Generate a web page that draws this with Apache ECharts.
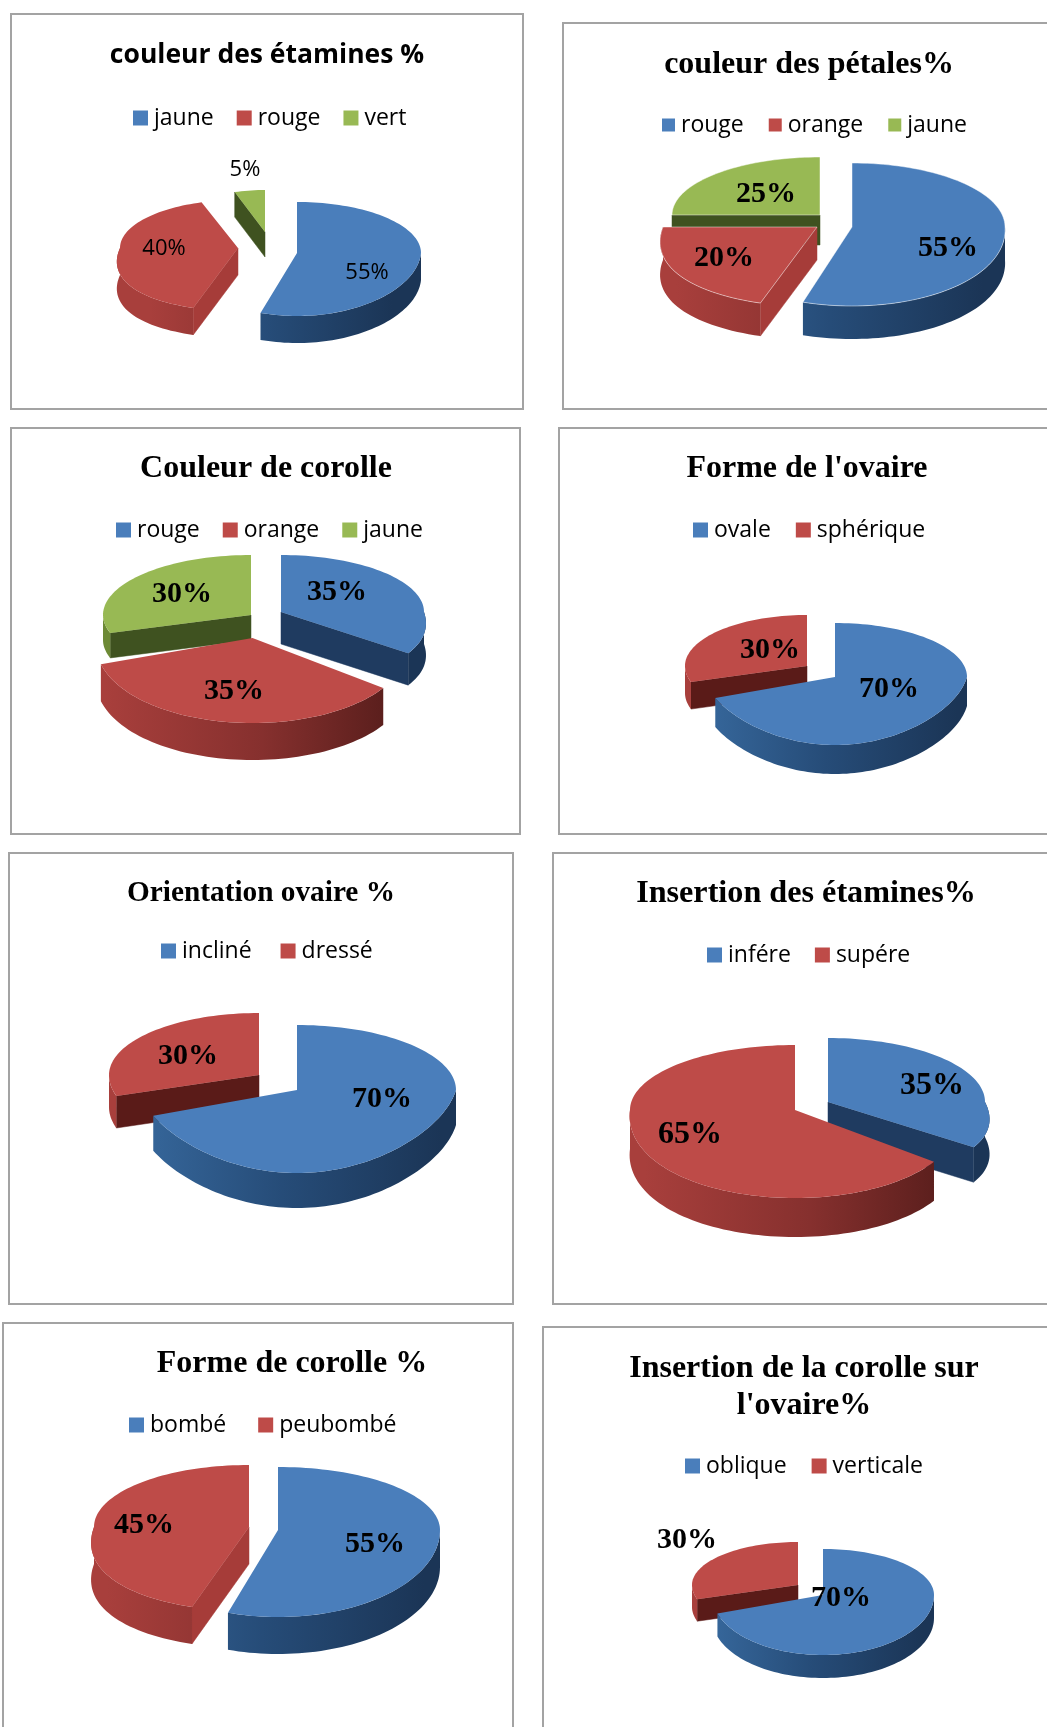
<!DOCTYPE html>
<html><head><meta charset="utf-8">
<style>html,body{margin:0;padding:0;background:#fff;overflow:hidden}#c{width:1047px;height:1727px}</style>
<script src="https://cdn.jsdelivr.net/npm/echarts@6/dist/echarts.min.js"></script>
</head><body><div id="c"></div>
<script>
// ---- data ----
const titles = ['couleur des étamines %','couleur des pétales%','Couleur de corolle',"Forme de l'ovaire",'Orientation ovaire %','Insertion des étamines%','Forme de corolle %',"Insertion de la corolle sur\nl'ovaire%"];
const categories = [['jaune','rouge','vert'],['rouge','orange','jaune'],['rouge','orange','jaune'],['ovale','sphérique'],['incliné','dressé'],['infére','supére'],['bombé','peubombé'],['oblique','verticale']];
const values = [[55,40,5],[55,20,25],[35,35,30],[70,30],[70,30],[35,65],[55,45],[70,30]];

// ---- layout (panel frames, pie centres, explosion offsets, radii) ----
const frames = [[11,14,512,395],[563,23,520,386],[11,428,509,406],[559,428,520,406],[9,853,504,451],[553,853,520,451],[3,1323,510,450],[543,1327,540,450]];
const centers = [[268,248],[830,222],[262,622],[825,672],[282,1084],[810,1106],[262,1528],[812,1590]];
// per slice: dx, dy, rx, ryBack, ryFront, depth, front widening
const sliceGeom = [
 [[29,5,124,51,63,27,-0.05],[-30,0,118,48,63,27,0.24],[-3,-16,98,42,50,25,0]],
 [[22,5,153,64,79,33,0.04],[-13,5,154,64,80,33,0.2],[-10,-7,148,58,70,30,0]],
 [[19,-10,143,57,70,32,0.17],[-9.5,16,157,70,85,37,0.05],[-11,-7,148,60,58,25,0]],
 [[10,5,132,54,68,29,-0.15],[-18,-6,122,51,52,27,0]],
 [[15,6,159,65,83,35,-0.16],[-23,-9,150,62,68,32,0]],
 [[18,-4,157,64,77,35,0.25],[-15,4,165,65,88,39,0.07]],
 [[16,2,162,63,87,37,0],[-13,-1,155,62,84,37,0.2]],
 [[11,5,111,46,60,23,0],[-14,-5,106,43,46,22,0]]
];
const labelPos = [
 [[367,273],[164,249],[245,170]],
 [[948,248],[724,258],[766,194]],
 [[337,592],[234,691],[182,594]],
 [[889,689],[770,650]],
 [[382,1099],[188,1056]],
 [[932,1086],[690,1135]],
 [[375,1544],[144,1525]],
 [[841,1598],[687,1540]]
];
const titlePos = [[267,55,26.5],[809,65,32],[266,469,32],[807,469,32],[261,893,29.3],[806,894,32.2],[292,1364,32],[804,1387,32]];
const legendPos = [[133,118,23],[662,125,25],[116,530,23],[693,530,25],[161,951,29],[707,955,24],[129,1425,32],[685,1466,25]];

const palette = [
 {top:'#4a7ebb',lit:'#2f5d8c',dark:'#1f3b60',arc:['#386a9f','#264c78','#1b3556']},
 {top:'#be4b48',lit:'#a63c39',dark:'#5a1b18',arc:['#a83f3c','#86302e','#4f1a18']},
 {top:'#98b954',lit:'#5d7530',dark:'#3f5220',arc:['#6d8a36','#566e2a','#3f5220']}
];
const SANS = '"Open Sans", sans-serif', SERIF = '"Liberation Serif", serif';

function sliceRenderer(p, s, start, end) {
  return function () {
    const [cx, cy] = centers[p];
    const [dx, dy, rx, ryB, ryF, depth, widen] = sliceGeom[p][s];
    const ax = cx + dx, ay = cy + dy;
    const col = palette[s];
    const rim = (deg, off) => {
      const r = deg * Math.PI / 180, c = -Math.cos(r);
      return [ax + rx * Math.sin(r) * (1 + widen * Math.max(c, 0)), ay + (c < 0 ? ryB : ryF) * c + (off || 0)];
    };
    const sweep = (a, b, off) => {
      const pts = [], n = Math.max(2, Math.ceil((b - a) / 2));
      for (let i = 0; i <= n; i++) pts.push(rim(a + (b - a) * i / n, off));
      return pts;
    };
    const kids = [];
    const wall = (edge, normal) => {
      const nr = normal * Math.PI / 180;
      if (Math.cos(nr) >= 0) return;
      const e = rim(edge), fill = Math.sin(nr) > 0.5 ? col.lit : col.dark;
      kids.push({type:'polygon', silent:true, shape:{points:[[ax,ay],e,[e[0],e[1]+depth],[ax,ay+depth]]}, style:{fill, stroke:fill, lineWidth:0.5}});
    };
    wall(start, start - 90);
    wall(end, end + 90);
    const from = Math.max(start, 90), to = Math.min(end, 270);
    if (to > from) {
      const fill = new echarts.graphic.LinearGradient(cx - rx, 0, cx + rx, 0,
        [{offset:0,color:col.arc[0]},{offset:0.5,color:col.arc[1]},{offset:1,color:col.arc[2]}], true);
      kids.push({type:'polygon', silent:true, shape:{points:sweep(from,to,0).concat(sweep(from,to,depth).reverse())}, style:{fill}});
    }
    const topStyle = {fill:col.top};
    if (p === 1) { topStyle.stroke = 'rgba(255,255,255,0.45)'; topStyle.lineWidth = 1; }
    kids.push({type:'polygon', silent:true, shape:{points:[[ax,ay]].concat(sweep(start,end,0))}, style:topStyle});
    const lp = labelPos[p][s];
    kids.push({type:'text', silent:true, z2:50, style:{
      text: values[p][s] + '%', x: lp[0], y: lp[1], align:'center', verticalAlign:'middle',
      fill:'#000',
      fontFamily: p === 0 ? SANS : SERIF,
      fontWeight: p === 0 ? 'normal' : 'bold',
      fontSize: p === 0 ? 22 : (p === 5 ? 32 : 30)
    }});
    return {type:'group', children:kids};
  };
}

const series = [];
values.forEach((vals, p) => {
  let acc = 0;
  const total = vals.reduce((a,b)=>a+b,0);
  const items = vals.map((v,s) => {
    const start = acc / total * 360; acc += v; const end = acc / total * 360;
    return {s, start, end, back: Math.cos((start+end)/2*Math.PI/180)};
  });
  items.slice().sort((a,b)=>b.back-a.back).forEach((it, order) => {
    series.push({
      type:'custom', coordinateSystem:'none', name:categories[p][it.s],
      z: 2 + order, silent:true, animation:false,
      itemStyle:{color:palette[it.s].top},
      data:[[vals[it.s]]],
      renderItem: sliceRenderer(p, it.s, it.start, it.end)
    });
  });
});

const option = {
  backgroundColor:'#fff', animation:false,
  title: titles.map((t,i)=>({
    text:t, left:titlePos[i][0], top:titlePos[i][1], textAlign:'center', textVerticalAlign:'middle', padding:0,
    textStyle:{color:'#000', fontWeight:'bold', fontFamily:i===0?SANS:SERIF, fontSize:titlePos[i][2], lineHeight:37}
  })),
  legend: categories.map((cats,i)=>({
    show:true, orient:'horizontal', left:legendPos[i][0], top:legendPos[i][1]-15, padding:0,
    itemGap:legendPos[i][2], itemWidth:i===1?13:15, itemHeight:i===1?13:15, icon:'rect', selectedMode:false,
    height:30,
    textStyle:{fontFamily:SANS, fontSize:23, color:'#000', padding:[0,0,0,1], lineHeight:30},
    data:cats.map((n,s)=>({name:n, itemStyle:{color:palette[s].top, borderWidth:0}}))
  })),
  graphic: frames.map(f=>({type:'rect', silent:true, z:0, shape:{x:f[0],y:f[1],width:f[2],height:f[3]}, style:{fill:'#fff',stroke:'#a3a3a3',lineWidth:2}})),
  series
};
const chart = echarts.init(document.getElementById('c'), null, {renderer:'canvas', width:1047, height:1727});
chart.setOption(option);
</script></body></html>
